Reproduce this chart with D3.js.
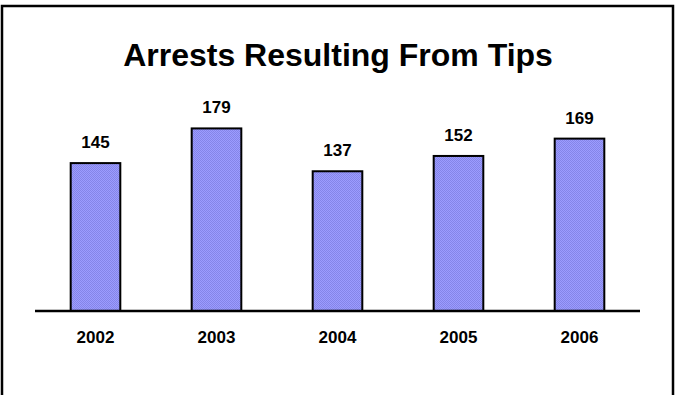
<!DOCTYPE html>
<html><head><meta charset="utf-8">
<script src="https://cdn.jsdelivr.net/npm/d3@7"></script>
<style>html,body{margin:0;padding:0;background:#fff;}svg{display:block;}</style>
</head><body>
<script>
const categories = ["2002","2003","2004","2005","2006"];
const values = [145,179,137,152,169];
const title = "Arrests Resulting From Tips";

const W = 678, H = 395;
const svg = d3.select("body").append("svg").attr("width", W).attr("height", H);
const defs = svg.append("defs");
const pat = defs.append("pattern").attr("id","dots").attr("width",2).attr("height",2).attr("patternUnits","userSpaceOnUse");
pat.append("rect").attr("width",2).attr("height",2).attr("fill","#9c9cff");
pat.append("rect").attr("width",1).attr("height",1).attr("fill","#8585e8");
pat.append("rect").attr("x",1).attr("y",1).attr("width",1).attr("height",1).attr("fill","#8585e8");

svg.append("rect").attr("x",2).attr("y",6).attr("width",671).attr("height",400)
  .attr("fill","none").attr("stroke","#000").attr("stroke-width",2.5);

svg.append("text").attr("x",338).attr("y",66).attr("text-anchor","middle")
  .style("font-family","Arial, 'Liberation Sans', sans-serif").style("font-weight","bold").style("font-size","32px")
  .text(title);

const x = d3.scaleBand().domain(categories).range([35,640]).paddingInner(0.59).paddingOuter(0.295);
const y = d3.scaleLinear().domain([0,200]).range([311,107]);

svg.selectAll("rect.bar").data(values).enter().append("rect").attr("class","bar")
  .attr("x",(d,i)=>x(categories[i])).attr("width",x.bandwidth())
  .attr("y",d=>y(d)).attr("height",d=>y(0)-y(d))
  .attr("fill","url(#dots)").attr("stroke","#000").attr("stroke-width",2);

svg.selectAll("text.val").data(values).enter().append("text").attr("class","val")
  .attr("x",(d,i)=>x(categories[i])+x.bandwidth()/2).attr("y",d=>y(d)-15)
  .attr("text-anchor","middle")
  .style("font-family","Arial, 'Liberation Sans', sans-serif").style("font-weight","bold").style("font-size","17px")
  .text(d=>d);

const axis = d3.axisBottom(x).tickSize(0).tickPadding(20);
const g = svg.append("g").attr("transform",`translate(0,${y(0)})`).call(axis);
g.select(".domain").attr("stroke","#000").attr("stroke-width",2.5).attr("d","M35,0H640");
g.selectAll("text").style("font-family","Arial, 'Liberation Sans', sans-serif").style("font-weight","bold").style("font-size","17px").attr("fill","#000");
</script>
</body></html>
